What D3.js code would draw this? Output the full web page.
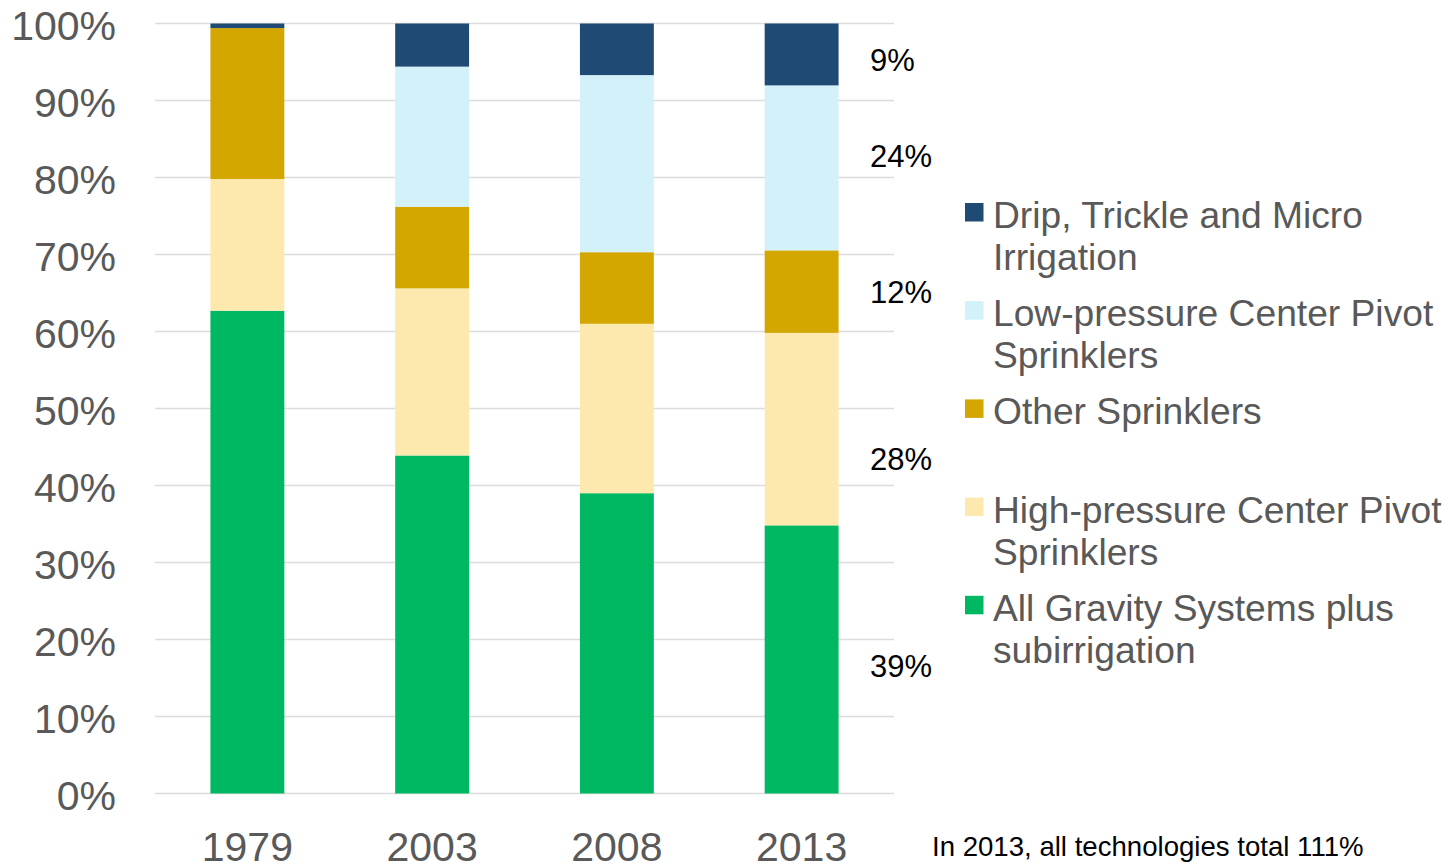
<!DOCTYPE html>
<html>
<head>
<meta charset="utf-8">
<script src="https://cdn.jsdelivr.net/npm/d3@7"></script>
<style>
  html, body { margin: 0; padding: 0; background: #ffffff; }
  svg { display: block; font-family: "Liberation Sans", Arial, sans-serif; }
</style>
</head>
<body>
<svg id="chart" width="1448" height="864"></svg>
<script>
// Survey years on the x axis
const years = ["1979", "2003", "2008", "2013"];

// Irrigation technologies, bottom of the stack first
const technologies = [
  "All Gravity Systems plus subirrigation",
  "High-pressure Center Pivot Sprinklers",
  "Other Sprinklers",
  "Low-pressure Center Pivot Sprinklers",
  "Drip, Trickle and Micro Irrigation"
];

// Share of irrigated acres by technology (percent), one array per technology, in year order.
// The 2013 figures are the published shares, which add up to more than 100%.
const gravity      = [62.7, 43.9, 39.0, 39];
const highPressure = [17.1, 21.7, 22.0, 28];
const otherSprink  = [19.6, 10.6,  9.3, 12];
const lowPressure  = [ 0.0, 18.2, 23.0, 24];
const drip         = [ 0.6,  5.6,  6.7,  9];

const seriesValues = [gravity, highPressure, otherSprink, lowPressure, drip];

// Y axis tick values (fraction of total)
const yTicks = [0, 0.1, 0.2, 0.3, 0.4, 0.5, 0.6, 0.7, 0.8, 0.9, 1.0];

// Legend text, top to bottom, split into lines
const legendLines = [
  ["Drip, Trickle and Micro", "Irrigation"],
  ["Low-pressure Center Pivot", "Sprinklers"],
  ["Other Sprinklers"],
  ["High-pressure Center Pivot", "Sprinklers"],
  ["All Gravity Systems plus", "subirrigation"]
];

const note = "In 2013, all technologies total 111%";

const colors = {
  "All Gravity Systems plus subirrigation": "#00B862",
  "High-pressure Center Pivot Sprinklers": "#FDE8AE",
  "Other Sprinklers": "#D4A600",
  "Low-pressure Center Pivot Sprinklers": "#D2F1F8",
  "Drip, Trickle and Micro Irrigation": "#1F4A74"
};

// Build table rows for d3.stack
const rows = years.map((yr, i) => {
  const r = { year: yr };
  technologies.forEach((t, k) => { r[t] = seriesValues[k][i]; });
  return r;
});

const stacked = d3.stack()
  .keys(technologies)
  .offset(d3.stackOffsetExpand)(rows);

const svg = d3.select("#chart");

const plot = { left: 155, right: 894, top: 23.5, bottom: 793.5 };

const x = d3.scaleBand()
  .domain(years)
  .range([plot.left, plot.right])
  .paddingInner(0.6)
  .paddingOuter(0.3);

const y = d3.scaleLinear()
  .domain([0, 1])
  .range([plot.bottom, plot.top]);

// Horizontal gridlines
svg.append("g")
  .selectAll("line")
  .data(yTicks)
  .join("line")
  .attr("x1", plot.left)
  .attr("x2", plot.right)
  .attr("y1", d => y(d))
  .attr("y2", d => y(d))
  .attr("stroke", "#DCDCDC")
  .attr("stroke-width", 1.6);

// Y axis labels
const yAxis = d3.axisLeft(y)
  .tickValues(yTicks)
  .tickFormat(d3.format(".0%"))
  .tickSize(0)
  .tickPadding(0);

svg.append("g")
  .attr("transform", `translate(116,0)`)
  .call(yAxis)
  .call(g => g.select(".domain").remove())
  .call(g => g.selectAll("text")
    .attr("fill", "#595959")
    .attr("font-size", 41)
    .attr("dy", "0.40em")
    .attr("font-family", "'Liberation Sans', Arial, sans-serif"));

// X axis labels
const xAxis = d3.axisBottom(x).tickSize(0).tickPadding(0);
svg.append("g")
  .attr("transform", `translate(0,${plot.bottom})`)
  .call(xAxis)
  .call(g => g.select(".domain").remove())
  .call(g => g.selectAll("text")
    .attr("fill", "#595959")
    .attr("font-size", 41)
    .attr("font-family", "'Liberation Sans', Arial, sans-serif")
    .attr("dy", null)
    .attr("y", 67));

// Stacked bars
svg.append("g")
  .selectAll("g")
  .data(stacked)
  .join("g")
  .attr("fill", s => colors[s.key])
  .selectAll("rect")
  .data(s => s)
  .join("rect")
  .attr("x", d => x(d.data.year))
  .attr("width", x.bandwidth())
  .attr("y", d => y(d[1]))
  .attr("height", d => Math.max(0, y(d[0]) - y(d[1])));

// Value labels beside the 2013 bar (published shares)
const lastYear = years[years.length - 1];
const labelShift = [6, 30, 0, -12, 5]; // small vertical nudges, bottom to top
svg.append("g")
  .selectAll("text")
  .data(stacked)
  .join("text")
  .attr("x", 870)
  .attr("y", (s, i) => {
    const d = s.find(p => p.data.year === lastYear);
    return (y(d[0]) + y(d[1])) / 2 + labelShift[i];
  })
  .attr("dy", "0.36em")
  .attr("font-size", 31)
  .attr("fill", "#000000")
  .text(s => s.find(p => p.data.year === lastYear).data[s.key] + "%");

// Legend
const legendOrder = technologies.slice().reverse();
const legend = svg.append("g");
const item = legend.selectAll("g")
  .data(legendOrder)
  .join("g")
  .attr("transform", (d, i) => `translate(965,${228 + i * 98.2})`);

item.append("rect")
  .attr("x", 0)
  .attr("y", -25)
  .attr("width", 18.5)
  .attr("height", 18.5)
  .attr("fill", d => colors[d]);

item.append("text")
  .attr("x", 28)
  .attr("y", 0)
  .attr("font-size", 37.2)
  .attr("fill", "#595959")
  .selectAll("tspan")
  .data((d, i) => legendLines[i])
  .join("tspan")
  .attr("x", 28)
  .attr("dy", (d, j) => j === 0 ? 0 : 42)
  .text(d => d);

// Footnote
svg.append("text")
  .attr("x", 932)
  .attr("y", 856)
  .attr("font-size", 27.6)
  .attr("fill", "#000000")
  .text(note);
</script>
</body>
</html>
